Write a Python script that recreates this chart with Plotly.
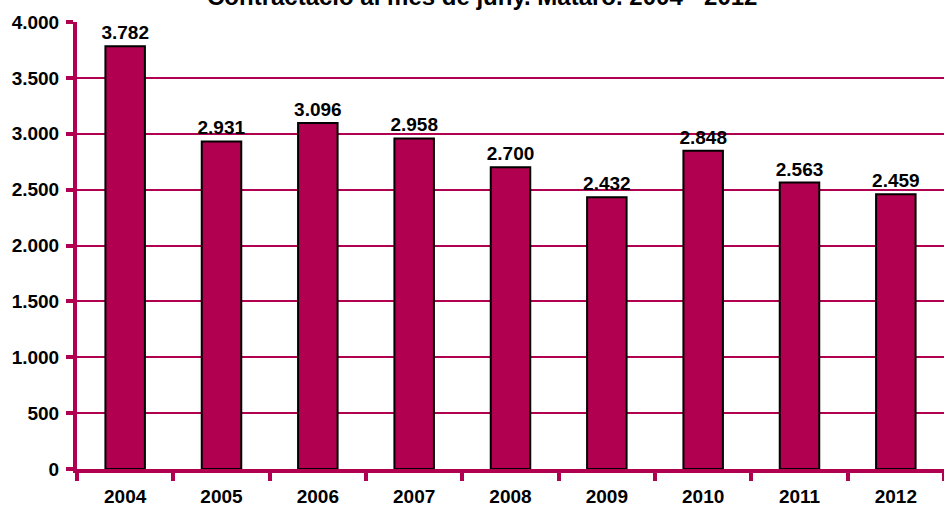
import plotly.graph_objects as go

years = ["2004", "2005", "2006", "2007", "2008", "2009", "2010", "2011", "2012"]
values = [3782, 2931, 3096, 2958, 2700, 2432, 2848, 2563, 2459]
labels = ["3.782", "2.931", "3.096", "2.958", "2.700", "2.432", "2.848", "2.563", "2.459"]
title_text = "Contractació al mes de juny. Mataró. 2004 - 2012"

CRIMSON = "#B0004F"
FONT = "Arial, Liberation Sans, sans-serif"

fig = go.Figure()
fig.add_trace(go.Bar(
    x=years, y=values, text=labels, textposition="outside",
    constraintext="none",
    textfont=dict(family=FONT, size=19, color="black", weight="bold"),
    marker=dict(color=CRIMSON, line=dict(color="black", width=2)),
    width=0.41, cliponaxis=False,
))

fig.update_layout(
    width=944, height=511,
    margin=dict(l=77, r=0, t=22, b=42, autoexpand=False),
    paper_bgcolor="white", plot_bgcolor="white",
    font=dict(family=FONT, size=19, color="black"),
    separators=",.",
    showlegend=False,
    annotations=[dict(
        text="<b>" + title_text + "</b>", xref="paper", yref="paper",
        x=0.467, y=1.058, xanchor="center", yanchor="middle",
        showarrow=False, font=dict(family=FONT, size=24, color="black"),
    )],
)
fig.update_yaxes(
    range=[0, 4000], dtick=500, tickformat=",d", automargin=False,
    showgrid=True, gridcolor=CRIMSON, gridwidth=2,
    zeroline=False,
    showline=True, linecolor=CRIMSON, linewidth=4,
    ticks="outside", ticklen=7, tickwidth=4, tickcolor=CRIMSON,
    tickfont=dict(family=FONT, size=19, color="black", weight="bold"),
    ticklabelstandoff=3,
)
fig.update_xaxes(
    type="category", tickson="boundaries", automargin=False,
    showgrid=False, zeroline=False,
    showline=True, linecolor=CRIMSON, linewidth=4,
    ticks="outside", ticklen=8, tickwidth=4, tickcolor=CRIMSON,
    tickfont=dict(family=FONT, size=19, color="black", weight="bold"),
    ticklabelstandoff=7,
)

fig.write_html("out.html", config={"displayModeBar": False},
               post_script="document.body.style.margin='0px';document.body.style.overflow='hidden';")
